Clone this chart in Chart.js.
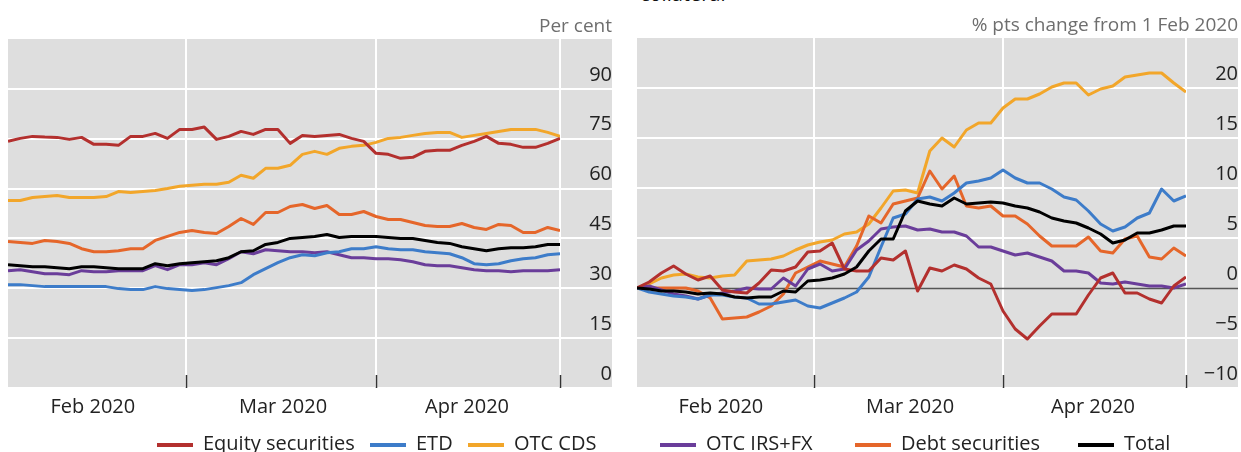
<!DOCTYPE html>
<html>
<head>
<meta charset="utf-8">
<title>Collateral by type</title>
<script src="https://cdn.jsdelivr.net/npm/chart.js@4.4.1/dist/chart.umd.min.js"></script>
<style>
  html, body { margin: 0; padding: 0; background: #fff; }
  body { width: 1241px; height: 452px; overflow: hidden; position: relative; font-family: 'Open Sans', sans-serif; }
  .panel { position: absolute; top: 0; height: 452px; }
  #lp { left: 0; width: 620px; }
  #rp { left: 620px; width: 621px; }
  .head { position: absolute; left: 640px; top: -16px; font-size: 20px; line-height: 20px; color: #111; }
  .leg { position: absolute; top: 431px; height: 24px; font-size: 20px; line-height: 24px; color: #222; white-space: nowrap; }
  .leg i { display: inline-block; width: 36px; height: 4px; vertical-align: middle; margin-right: 10px; }
</style>
</head>
<body>
<div class="head">collateral</div>
<div class="panel" id="lp"><canvas id="left" width="620" height="452"></canvas></div>
<div class="panel" id="rp"><canvas id="right" width="621" height="452"></canvas></div>
<div id="legend"></div>

<script>
// ── Data ────────────────────────────────────────────────────────
// x = days since 1 Feb 2020
const DAYS = [0, 2, 4, 6, 8, 10, 12, 14, 16, 18, 20, 22, 24, 26, 28, 30, 32, 34, 36, 38, 40, 42, 44,
              46, 48, 50, 52, 54, 56, 58, 60, 62, 64, 66, 68, 70, 72, 74, 76, 78, 80, 82, 84, 86, 88, 90];
const MONTH_ENDS   = [29, 60, 90];
const MONTH_LABELS = ['Feb 2020', 'Mar 2020', 'Apr 2020'];

const SERIES_NAMES = ['Equity securities', 'ETD', 'OTC CDS', 'OTC IRS+FX', 'Debt securities', 'Total'];

// Left panel: per cent
const equityLevel = [74.2, 75.1, 75.7, 75.5, 75.4, 74.8, 75.4, 73.3, 73.3, 73.0, 75.7, 75.7, 76.6, 75.1, 77.8, 77.8,
  78.5, 74.8, 75.7, 77.2, 76.3, 77.8, 77.8, 73.6, 76.0, 75.7, 76.0, 76.3, 75.1, 74.2, 70.6, 70.3, 69.1, 69.4,
  71.2, 71.5, 71.5, 73.0, 74.2, 75.7, 73.6, 73.3, 72.4, 72.4, 73.6, 75.1];
const etdLevel = [31.1, 31.1, 30.8, 30.5, 30.5, 30.5, 30.5, 30.5, 30.5, 29.9, 29.6, 29.6, 30.5, 29.9, 29.6, 29.3,
  29.6, 30.2, 30.8, 31.7, 34.1, 35.9, 37.7, 39.2, 40.1, 39.8, 40.7, 41.0, 41.9, 41.9, 42.5, 41.9, 41.6, 41.6,
  41.0, 40.7, 40.4, 39.2, 37.4, 37.1, 37.4, 38.3, 38.9, 39.2, 40.1, 40.4];
const cdsLevel = [56.4, 56.4, 57.3, 57.6, 57.9, 57.3, 57.3, 57.3, 57.6, 59.1, 58.8, 59.1, 59.4, 60.0, 60.7, 61.0,
  61.3, 61.3, 61.9, 64.0, 63.1, 66.1, 66.1, 67.0, 70.3, 71.2, 70.3, 72.1, 72.7, 73.0, 73.9, 75.1, 75.4, 76.0,
  76.6, 76.9, 76.9, 75.4, 76.0, 76.6, 77.2, 77.8, 77.8, 77.8, 76.9, 75.7];
const irsLevel = [35.3, 35.6, 35.0, 34.4, 34.4, 34.1, 35.3, 35.0, 35.0, 35.3, 35.3, 35.3, 36.8, 35.6, 37.1, 37.1,
  37.7, 37.1, 38.9, 41.0, 40.4, 41.6, 41.3, 41.0, 41.0, 40.7, 41.0, 40.1, 39.2, 39.2, 38.9, 38.9, 38.6, 38.0,
  37.1, 36.8, 36.8, 36.2, 35.6, 35.3, 35.3, 35.0, 35.3, 35.3, 35.3, 35.6];
const debtLevel = [44.1, 43.8, 43.5, 44.4, 44.1, 43.5, 41.9, 41.0, 41.0, 41.3, 41.9, 41.9, 44.4, 45.6, 46.8, 47.4,
  46.8, 46.5, 48.6, 51.0, 49.2, 52.8, 52.8, 54.6, 55.2, 54.0, 54.9, 52.2, 52.2, 53.1, 51.6, 50.7, 50.7, 49.8,
  48.9, 48.6, 48.6, 49.5, 48.3, 47.7, 49.2, 48.9, 46.8, 46.8, 48.3, 47.4];
const totalLevel = [37.1, 36.8, 36.5, 36.5, 36.2, 35.9, 36.5, 36.5, 36.2, 35.9, 35.9, 35.9, 37.4, 36.8, 37.4, 37.7,
  38.0, 38.3, 39.2, 41.0, 41.3, 43.2, 43.8, 45.0, 45.3, 45.6, 46.2, 45.3, 45.6, 45.6, 45.6, 45.3, 45.0, 45.0,
  44.4, 43.8, 43.5, 42.5, 41.9, 41.3, 41.9, 42.2, 42.2, 42.5, 43.2, 43.2];

// Right panel: % pts change from 1 Feb 2020
const equityChg = [0, 0.6, 1.5, 2.2, 1.4, 0.8, 1.2, -0.2, -0.4, -0.5, 0.5, 1.8, 1.7, 2.1, 3.6, 3.7, 4.5, 1.9, 1.7,
  1.7, 3.0, 2.8, 3.7, -0.3, 2.0, 1.7, 2.3, 1.9, 1.0, 0.4, -2.3, -4.1, -5.1, -3.8, -2.6, -2.6, -2.6, -0.7, 1.0,
  1.5, -0.5, -0.5, -1.1, -1.5, 0.2, 1.1];
const etdChg = [0, -0.4, -0.6, -0.8, -0.9, -1.1, -0.7, -0.7, -0.9, -1.0, -1.6, -1.6, -1.4, -1.2, -1.8, -2.0, -1.5,
  -1.0, -0.4, 1.1, 4.1, 7.0, 7.4, 8.9, 9.1, 8.7, 9.5, 10.5, 10.7, 11.0, 11.8, 11.0, 10.5, 10.5, 9.9, 9.1, 8.8,
  7.7, 6.4, 5.7, 6.1, 7.0, 7.5, 9.9, 8.7, 9.2];
const cdsChg = [0, 0.4, 1.0, 1.3, 1.4, 1.1, 1.0, 1.2, 1.3, 2.7, 2.8, 2.9, 3.2, 3.8, 4.3, 4.6, 4.8, 5.4, 5.6, 6.4,
  8.0, 9.7, 9.8, 9.5, 13.7, 15.0, 14.1, 15.8, 16.5, 16.5, 18.0, 18.9, 18.9, 19.4, 20.1, 20.5, 20.5, 19.3, 19.9,
  20.2, 21.1, 21.3, 21.5, 21.5, 20.5, 19.6];
const irsChg = [0, 0.2, -0.2, -0.6, -0.8, -1.1, -0.7, -0.5, -0.3, 0, -0.1, -0.1, 1.0, 0.2, 1.9, 2.4, 1.7, 1.9, 3.8,
  4.7, 5.9, 6.1, 6.2, 5.8, 5.9, 5.6, 5.6, 5.2, 4.1, 4.1, 3.7, 3.3, 3.5, 3.1, 2.7, 1.7, 1.7, 1.5, 0.5, 0.4, 0.6,
  0.4, 0.2, 0.2, 0, 0.4];
const debtChg = [0, 0, 0, 0, 0, -0.3, -1.0, -3.1, -3.0, -2.9, -2.4, -1.8, -0.6, 1.5, 2.1, 2.7, 2.4, 2.1, 4.2, 7.2,
  6.5, 8.4, 8.7, 9.0, 11.7, 9.9, 11.2, 8.2, 8.0, 8.2, 7.2, 7.2, 6.4, 5.2, 4.2, 4.2, 4.2, 5.1, 3.7, 3.5, 4.9,
  5.2, 3.1, 2.9, 4.0, 3.2];
const totalChg = [0, -0.1, -0.3, -0.3, -0.4, -0.6, -0.5, -0.6, -0.9, -1.0, -0.9, -0.9, -0.3, -0.4, 0.7, 0.8, 1.0,
  1.4, 2.1, 3.7, 4.9, 4.9, 7.7, 8.7, 8.4, 8.2, 9.0, 8.4, 8.5, 8.6, 8.5, 8.2, 8.0, 7.6, 7.0, 6.7, 6.5, 6.0, 5.4,
  4.5, 4.8, 5.5, 5.5, 5.8, 6.2, 6.2];

// ── Styling ─────────────────────────────────────────────────────
const COLORS   = ['#b3302e', '#3d7cc9', '#f2a62a', '#6a3d9a', '#e5662a', '#000000'];
const Z_ORDER  = [1, 2, 5, 3, 4, 0];               // lower = drawn on top
const LEGEND_X = [157, 370, 468, 660, 855, 1078];
const FONT     = "'Open Sans', sans-serif";
const PLOT_BG  = '#dedede';

Chart.defaults.font.family = FONT;

const toPoints = arr => DAYS.map((d, i) => ({ x: d, y: arr[i] }));

function makeDatasets(seriesList) {
  return seriesList.map((arr, i) => ({
    label: SERIES_NAMES[i],
    data: toPoints(arr),
    borderColor: COLORS[i],
    backgroundColor: COLORS[i],
    borderWidth: 3,
    pointRadius: 0,
    tension: 0,
    borderJoinStyle: 'round',
    order: Z_ORDER[i],
  }));
}

/** Grey panel, white grid, zero line and month tick marks, all from the scales. */
const panelBg = {
  id: 'panelBg',
  beforeDraw(chart) {
    const { ctx, chartArea: a, scales: { x, y } } = chart;
    const right = y.right;
    ctx.save();
    ctx.fillStyle = PLOT_BG;
    ctx.fillRect(a.left, a.top, right - a.left, a.bottom - a.top);

    ctx.strokeStyle = '#ffffff';
    ctx.lineWidth = 2;
    y.ticks.forEach(t => {
      const py = Math.round(y.getPixelForValue(t.value));
      if (t.value === 0 && y.min < 0) return;
      ctx.beginPath(); ctx.moveTo(a.left, py); ctx.lineTo(right, py); ctx.stroke();
    });
    x.ticks.forEach(t => {
      const px = Math.round(x.getPixelForValue(t.value));
      ctx.beginPath(); ctx.moveTo(px, a.top); ctx.lineTo(px, a.bottom); ctx.stroke();
    });

    if (y.min < 0) {
      const pz = Math.round(y.getPixelForValue(0)) + 0.5;
      ctx.strokeStyle = '#555555';
      ctx.lineWidth = 1.5;
      ctx.beginPath(); ctx.moveTo(a.left, pz); ctx.lineTo(right, pz); ctx.stroke();
    }

    ctx.strokeStyle = '#333333';
    ctx.lineWidth = 1.5;
    x.ticks.forEach(t => {
      const px = Math.round(x.getPixelForValue(t.value)) + 0.5;
      ctx.beginPath(); ctx.moveTo(px, a.bottom - 13); ctx.lineTo(px, a.bottom); ctx.stroke();
    });
    ctx.restore();
  },
};

function makeChart(id, seriesList, cfg) {
  return new Chart(document.getElementById(id), {
    type: 'line',
    data: { datasets: makeDatasets(seriesList) },
    options: {
      responsive: false,
      devicePixelRatio: 1,
      animation: false,
      layout: { padding: cfg.padding },
      plugins: {
        legend: { display: false },
        tooltip: { enabled: false },
        title: {
          display: true,
          text: cfg.title,
          align: 'end',
          color: '#6e6e6e',
          font: { size: 19, weight: 'normal', family: FONT },
          padding: { top: 14, bottom: 1.2 },
        },
      },
      scales: {
        x: {
          type: 'linear',
          min: 0, max: 90,
          grid: { display: false, drawTicks: false },
          border: { display: false },
          afterBuildTicks: s => { s.ticks = MONTH_ENDS.map(v => ({ value: v })); },
          ticks: {
            callback: v => MONTH_LABELS[MONTH_ENDS.indexOf(v)],
            color: '#222222',
            font: { size: 20 },
            padding: 7,
            labelOffset: -93,
            maxRotation: 0,
            autoSkip: false,
          },
        },
        y: {
          position: 'right',
          min: cfg.yMin, max: cfg.yMax,
          grid: { display: false, drawTicks: false },
          border: { display: false },
          afterBuildTicks: s => { s.ticks = s.ticks.filter(t => t.value < cfg.yMax); },
          afterFit: s => { s.width = 52; },
          ticks: {
            stepSize: cfg.step,
            callback: v => (v < 0 ? '\u2212' + Math.abs(v) : String(v)),
            color: '#222222',
            font: { size: 20 },
            crossAlign: 'far',
            padding: cfg.tickPad,
            labelOffset: -14,
          },
        },
      },
    },
    plugins: [panelBg],
  });
}

makeChart('left',
  [equityLevel, etdLevel, cdsLevel, irsLevel, debtLevel, totalLevel],
  { title: 'Per cent', yMin: 0, yMax: 105, step: 15, tickPad: 27,
    padding: { left: 8, right: 8, top: 0, bottom: 26 } });

makeChart('right',
  [equityChg, etdChg, cdsChg, irsChg, debtChg, totalChg],
  { title: '% pts change from 1 Feb 2020', yMin: -10, yMax: 25, step: 5, tickPad: 16,
    padding: { left: 17, right: 3, top: 0, bottom: 26 } });

// ── Legend ──────────────────────────────────────────────────────
const legendEl = document.getElementById('legend');
SERIES_NAMES.forEach((name, i) => {
  const item = document.createElement('div');
  item.className = 'leg';
  item.style.left = LEGEND_X[i] + 'px';
  item.innerHTML = `<i style="background:${COLORS[i]}"></i>${name}`;
  legendEl.appendChild(item);
});
</script>
</body>
</html>
